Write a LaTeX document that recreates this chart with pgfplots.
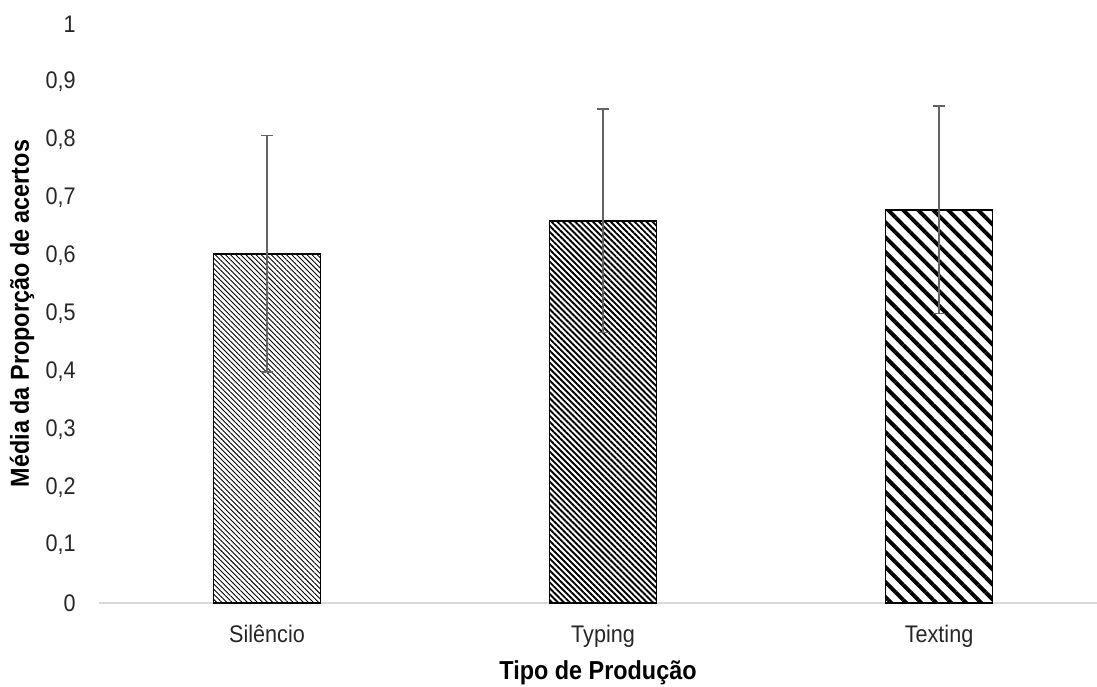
\documentclass[border=0pt]{standalone}
\usepackage{pgfplots}
\pgfplotsset{compat=1.18}
\usepackage{fontspec}
\setmainfont{Liberation Sans}[FakeStretch=0.9]
\usetikzlibrary{patterns.meta}
\definecolor{errgray}{HTML}{636363}
\definecolor{axgray}{HTML}{D9D9D9}
\begin{document}
\begin{tikzpicture}
\begin{axis}[
  scale only axis,
  width=499pt, height=289.5pt,
  xmin=-0.5, xmax=2.47,
  ymin=0, ymax=1,
  ytick={0,0.1,...,1.01},
  xtick={0,1,2},
  xticklabels={Silêncio,Typing,Texting},
  /pgf/number format/use comma,
  /pgf/number format/assume math mode=true,
  axis x line*=bottom,
  axis y line*=left,
  x axis line style={draw=axgray, line width=0.75pt, -},
  y axis line style={draw=none},
  major tick length=0pt,
  tick style={draw=none},
  font=\fontsize{12}{14}\selectfont,
  ticklabel style={font=\fontsize{12}{14}\selectfont, text=black!85},
  yticklabel style={anchor=east, inner sep=0pt, xshift=-11.5pt},
  xticklabel style={anchor=base, inner sep=0pt, yshift=-19.5pt},
  xlabel={\bfseries Tipo de Produção},
  ylabel={\bfseries Média da Proporção de acertos},
  label style={font=\fontsize{13}{15}\selectfont},
  xlabel style={at={(axis description cs:0.5,0)}, anchor=base, inner sep=0pt, yshift=-38.3pt},
  ylabel style={at={(axis description cs:0,0.5)}, anchor=center, inner sep=0pt, yshift=38.5pt},
  ybar, bar width=53.5pt, bar shift=0pt,
  clip=false,
  error bars/y dir=both, error bars/y explicit,
  error bars/error bar style={draw=errgray, line width=0.75pt},
  error bars/error mark options={draw=errgray, line width=0.75pt, mark size=3pt, rotate=90},
]
\addplot[draw=black, line width=0.8pt,
  pattern={Lines[angle=-45, distance=1.8pt, line width=0.45pt]}]
  coordinates {(0,0.603) +- (0,0.204)};
\addplot[draw=black, line width=0.8pt,
  pattern={Lines[angle=-45, distance=2.1pt, line width=0.95pt]}]
  coordinates {(1,0.660) +- (0,0.193)};
\addplot[draw=black, line width=0.8pt,
  pattern={Lines[angle=-45, distance=5.3pt, line width=2pt]}]
  coordinates {(2,0.679) +- (0,0.179)};
\end{axis}
\pgfresetboundingbox
\path[use as bounding box] ([xshift=-49.5pt,yshift=-41.5pt]current axis.south west) rectangle ++(548.5pt,343pt);
\end{tikzpicture}
\end{document}
